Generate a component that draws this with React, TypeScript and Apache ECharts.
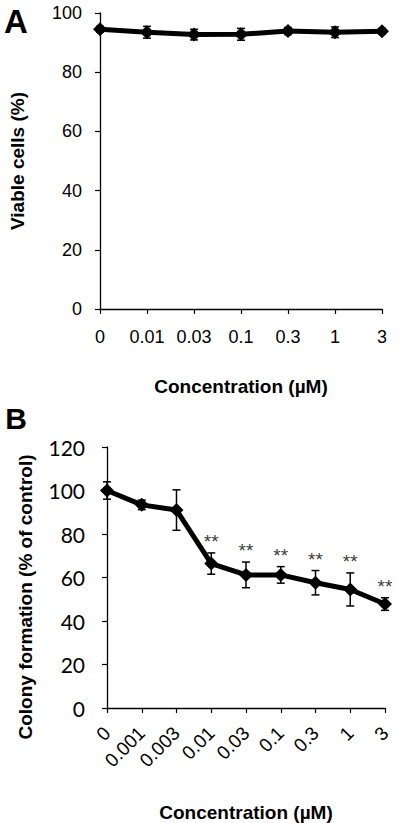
import React, { useEffect, useRef } from "react";
import * as echarts from "echarts";

// Panel A
const catsA = ["0", "0.01", "0.03", "0.1", "0.3", "1", "3"];
const meanA = [94.5, 93.5, 92.7, 92.8, 93.9, 93.5, 93.8];
const errA = [1.0, 2.0, 1.8, 2.0, 1.2, 1.8, 1.0];
// Panel B
const catsB = ["0", "0.001", "0.003", "0.01", "0.03", "0.1", "0.3", "1", "3"];
const meanB = [100, 93.4, 91, 66.4, 61.2, 61.2, 57.6, 54.5, 47.8];
const errB = [4, 2.2, 9.3, 4.9, 5.9, 3.8, 5.6, 7.6, 2.9];
const sigB = ["", "", "", "**", "**", "**", "**", "**", "**"];

const ARIAL = "'Liberation Sans', Arial, sans-serif";
const CALIBRI = "Lato, 'Open Sans', sans-serif";

const errRender = (params: any, api: any) => {
  const x = api.value(0);
  const lo = api.value(1);
  const hi = api.value(2);
  const pLo = api.coord([x, lo]);
  const pHi = api.coord([x, hi]);
  const w = 4;
  const style = { stroke: "#000", lineWidth: 1.5 };
  return {
    type: "group",
    children: [
      { type: "line", shape: { x1: pHi[0], y1: pHi[1], x2: pLo[0], y2: pLo[1] }, style },
      { type: "line", shape: { x1: pHi[0] - w, y1: pHi[1], x2: pHi[0] + w, y2: pHi[1] }, style },
      { type: "line", shape: { x1: pLo[0] - w, y1: pLo[1], x2: pLo[0] + w, y2: pLo[1] }, style },
    ],
  };
};

export default function App() {
  const ref = useRef<HTMLDivElement>(null);
  useEffect(() => {
    if (!ref.current) return;
    const chart = echarts.init(ref.current, null, { renderer: "svg" });
    const axisLine = { show: true, lineStyle: { color: "#000", width: 1.3 } };
    const axisTick = { show: true, length: 5, lineStyle: { color: "#000", width: 1.2 } };
    chart.setOption({
      animation: false,
      backgroundColor: "#fff",
      grid: [
        { left: 100, top: 13, width: 282, height: 296 },
        { left: 107, top: 447, width: 278, height: 265 },
      ],
      xAxis: [
        {
          gridIndex: 0,
          type: "category",
          data: catsA,
          boundaryGap: false,
          axisLine,
          axisTick: { ...axisTick, alignWithLabel: true },
          axisLabel: { color: "#000", fontFamily: ARIAL, fontSize: 18, margin: 19, interval: 0 },
          name: "Concentration (\u00b5M)",
          nameLocation: "middle",
          nameGap: 68,
          nameTextStyle: { color: "#000", fontFamily: ARIAL, fontSize: 19, fontWeight: "bold" },
        },
        {
          gridIndex: 1,
          type: "category",
          data: catsB,
          boundaryGap: false,
          axisLine,
          axisTick: { ...axisTick, alignWithLabel: true },
          axisLabel: { color: "#000", fontFamily: ARIAL, fontSize: 19, margin: 22, rotate: 45, interval: 0 },
          name: "Concentration (\u00b5M)",
          nameLocation: "middle",
          nameGap: 95,
          nameTextStyle: { color: "#000", fontFamily: ARIAL, fontSize: 19, fontWeight: "bold" },
        },
      ],
      yAxis: [
        {
          gridIndex: 0,
          type: "value",
          min: 0,
          max: 100,
          interval: 20,
          splitLine: { show: false },
          axisLine,
          axisTick,
          axisLabel: { color: "#000", fontFamily: ARIAL, fontSize: 18, margin: 18 },
          name: "Viable cells (%)",
          nameLocation: "middle",
          nameGap: 73,
          nameTextStyle: { color: "#000", fontFamily: ARIAL, fontSize: 19, fontWeight: "bold" },
        },
        {
          gridIndex: 1,
          type: "value",
          min: 0,
          max: 120,
          interval: 20,
          splitLine: { show: false },
          axisLine,
          axisTick,
          axisLabel: { color: "#000", fontFamily: CALIBRI, fontSize: 21, margin: 22 },
        },
      ],
      graphic: [
        {
          type: "text",
          x: 16,
          y: 21,
          style: { text: "A", font: `bold 33px ${ARIAL}`, fill: "#000", align: "center", verticalAlign: "middle" },
        },
        {
          type: "text",
          x: 16,
          y: 418,
          style: { text: "B", font: `bold 30px ${ARIAL}`, fill: "#000", align: "center", verticalAlign: "middle" },
        },
        {
          type: "text",
          x: 25,
          y: 597,
          rotation: Math.PI / 2,
          style: {
            text: "Colony formation (% of control)",
            font: `bold 19px ${ARIAL}`,
            fill: "#000",
            align: "center",
            verticalAlign: "middle",
          },
        },
      ],
      series: [
        {
          type: "custom",
          xAxisIndex: 0,
          yAxisIndex: 0,
          renderItem: errRender,
          encode: { x: 0, y: [1, 2] },
          data: meanA.map((m, i) => [i, m - errA[i], m + errA[i]]),
          z: 1,
        },
        {
          type: "line",
          xAxisIndex: 0,
          yAxisIndex: 0,
          data: meanA,
          symbol: "diamond",
          symbolSize: 14,
          lineStyle: { color: "#000", width: 5 },
          itemStyle: { color: "#000" },
          z: 2,
        },
        {
          type: "custom",
          xAxisIndex: 1,
          yAxisIndex: 1,
          renderItem: errRender,
          encode: { x: 0, y: [1, 2] },
          data: meanB.map((m, i) => [i, m - errB[i], m + errB[i]]),
          z: 1,
        },
        {
          type: "line",
          xAxisIndex: 1,
          yAxisIndex: 1,
          data: meanB,
          symbol: "diamond",
          symbolSize: 14,
          lineStyle: { color: "#000", width: 5 },
          itemStyle: { color: "#000" },
          z: 2,
        },
        {
          type: "scatter",
          xAxisIndex: 1,
          yAxisIndex: 1,
          symbolSize: 0,
          itemStyle: { color: "#000" },
          data: meanB.map((m, i) => ({ value: [i, m + errB[i]], label: { formatter: sigB[i] } })),
          label: {
            show: true,
            position: "top",
            distance: 2,
            color: "#000",
            fontFamily: ARIAL,
            fontSize: 19,
          },
          z: 3,
        },
      ],
    });
    return () => chart.dispose();
  }, []);
  return (
    <div
      ref={ref}
      style={{ position: "fixed", left: 0, top: 0, width: 400, height: 823, background: "#fff" }}
    />
  );
}
